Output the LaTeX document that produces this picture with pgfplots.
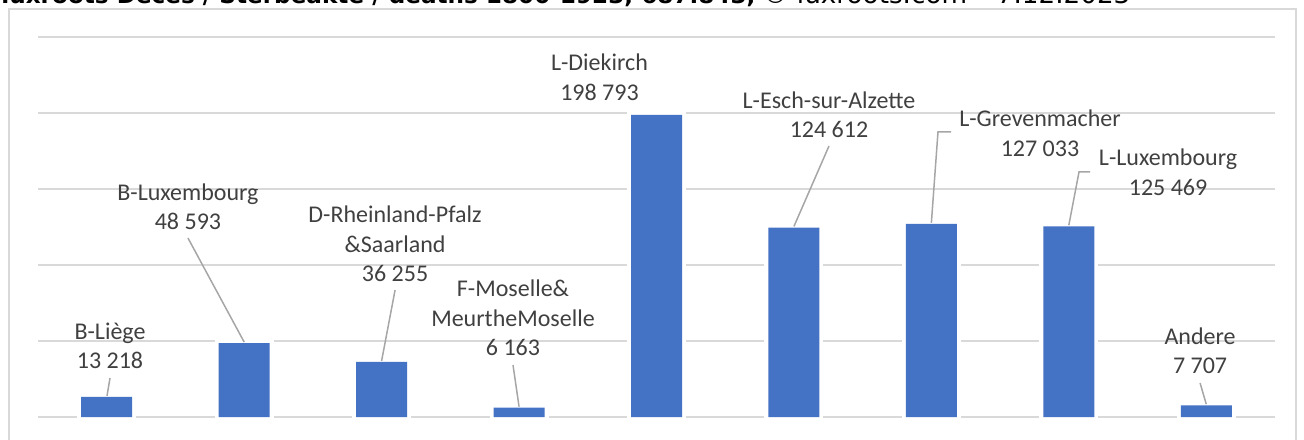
\documentclass[border=0pt]{standalone}
\usepackage{pgfplots}
\pgfplotsset{compat=1.18}
\usepackage{fontspec}
\setmainfont{Carlito}
\newfontfamily\titlefont{DejaVu Sans}
\definecolor{barblue}{HTML}{4472C4}
\definecolor{gridgray}{HTML}{D9D9D9}
\definecolor{lblgray}{HTML}{404040}
\definecolor{leadgray}{HTML}{A6A6A6}
\begin{document}
\begin{tikzpicture}[
  lbl/.style={align=center, text=lblgray, font=\fontsize{12}{14.75}\selectfont, inner sep=0pt},
  ld/.style={leadgray, line width=0.75pt}]
\useasboundingbox (0,0) rectangle (652pt,219.5pt);
\draw[gridgray, line width=0.75pt] (4.5pt,-10pt) -- (4.5pt,215pt) -- (648pt,215pt) -- (648pt,-10pt);
\node[anchor=base west, inner sep=0pt] at (0.5pt,217.5pt) {\resizebox{377pt}{!}{\titlefont\bfseries luxroots Décès / Sterbeakte / deaths 1800-1923, 687.843,}};
\node[anchor=base west, inner sep=0pt] at (381pt,217.5pt) {\resizebox{184pt}{!}{\titlefont © luxroots.com – 7.12.2023}};
\begin{axis}[at={(19pt,11pt)}, anchor=south west, scale only axis,
  width=618.5pt, height=190pt,
  xmin=-0.5, xmax=8.5, ymin=0, ymax=250000,
  ytick={0,50000,100000,150000,200000,250000}, yticklabels={},
  scaled y ticks=false,
  xtick=\empty, ymajorgrids, grid style={gridgray, line width=0.75pt},
  axis line style={draw=none}, major tick length=0, clip=false,
  ybar, bar width=25.5pt, bar shift=0pt]
\addplot[fill=barblue, draw=none, preaction={draw=white, line width=4pt}] coordinates {
  (0,13218) (1,48593) (2,36255) (3,6163) (4,198793) (5,124612) (6,127033) (7,125469) (8,7707)};
\node[lbl] at (axis cs:0.024,46711) {B-Liège\\13 218};
\draw[ld] (axis cs:0.024,25658) -- (axis cs:0.002,13900);
\node[lbl] at (axis cs:0.591,138159) {B-Luxembourg\\48 593};
\draw[ld] (axis cs:0.591,117764) -- (axis cs:1.0,49300);
\node[lbl] at (axis cs:2.098,113817) {D-Rheinland-Pfalz\\\&Saarland\\36 255};
\draw[ld] (axis cs:2.098,83553) -- (axis cs:2.0,36900);
\node[lbl] at (axis cs:2.956,65132) {F-Moselle\&\\MeurtheMoselle\\6 163};
\draw[ld] (axis cs:2.956,34211) -- (axis cs:3.0,6800);
\node[lbl] at (axis cs:3.585,223357) {L-Diekirch\\198 793};
\node[lbl] at (axis cs:5.255,198686) {L-Esch-sur-Alzette\\124 612};
\draw[ld] (axis cs:5.255,178291) -- (axis cs:5.0,125400);
\node[lbl] at (axis cs:6.790,186515) {L-Grevenmacher\\127 033};
\draw[ld] (axis cs:6.143,187502) -- (axis cs:6.048,187502) -- (axis cs:6.0,127800);
\node[lbl] at (axis cs:7.722,160857) {L-Luxembourg\\125 469};
\draw[ld] (axis cs:7.154,161186) -- (axis cs:7.074,161186) -- (axis cs:7.0,126200);
\node[lbl] at (axis cs:7.955,43750) {Andere\\7 707};
\draw[ld] (axis cs:7.955,22369) -- (axis cs:8.0,8400);
\end{axis}
\end{tikzpicture}
\end{document}
